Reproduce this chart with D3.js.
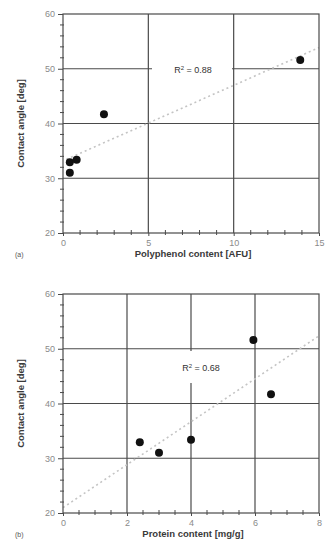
<!DOCTYPE html>
<html>
<head>
<meta charset="utf-8">
<script src="https://cdn.jsdelivr.net/npm/d3@7"></script>
<style>
  html, body { margin: 0; padding: 0; background: #fff; }
  svg { display: block; font-family: "Liberation Sans", Arial, sans-serif; }
</style>
</head>
<body>
<svg id="chart" width="325" height="546"></svg>
<script>
// Contact angle of the samples [deg]
const contactAngle = [31.0, 32.9, 33.4, 41.7, 51.6];
// Panel (a): polyphenol content [AFU]
const polyphenol = [0.4, 0.4, 0.8, 2.4, 13.9];
// Panel (b): protein content [mg/g]
const protein = [3.0, 2.4, 4.0, 6.5, 5.95];

const yTicks = [20, 30, 40, 50, 60];
const xTicksA = [0, 5, 10, 15];
const xTicksB = [0, 2, 4, 6, 8];
const r2Labels = ["0.88", "0.68"];

const svg = d3.select("#chart");
const gridColor = "#4a4a4a";

// least-squares line through the points
function fit(xs, ys) {
  const mx = d3.mean(xs), my = d3.mean(ys);
  let sxy = 0, sxx = 0;
  xs.forEach((x, i) => { sxy += (x - mx) * (ys[i] - my); sxx += (x - mx) ** 2; });
  const b = sxy / sxx;
  return { a: my - b * mx, b };
}

function panel(opt) {
  const x = d3.scaleLinear().domain(opt.xDomain).range([63, 319]);
  const y = d3.scaleLinear().domain([20, 60]).range([opt.bottom, opt.top]);
  const g = svg.append("g");

  // grid
  g.selectAll(".gx").data(opt.xTicks.slice(1, -1)).join("line")
    .attr("x1", d => x(d)).attr("x2", d => x(d))
    .attr("y1", y(60)).attr("y2", y(20))
    .attr("stroke", gridColor).attr("stroke-width", 1.2);
  g.selectAll(".gy").data(yTicks.slice(1, -1)).join("line")
    .attr("x1", x.range()[0]).attr("x2", x.range()[1])
    .attr("y1", d => y(d)).attr("y2", d => y(d))
    .attr("stroke", gridColor).attr("stroke-width", 1.2);

  // R² label on a white box
  const lbl = g.append("g").attr("transform", `translate(${opt.lblX},${opt.lblY})`);
  lbl.append("rect").attr("x", opt.boxX).attr("y", opt.boxY).attr("width", opt.boxW).attr("height", opt.boxH)
    .attr("fill", "#fff");
  const t = lbl.append("text").attr("font-size", 9).attr("fill", "#333").attr("text-anchor", "middle");
  t.append("tspan").text("R");
  t.append("tspan").text("2").attr("font-size", 6).attr("dy", -3.5);
  t.append("tspan").text(" = " + opt.r2).attr("dy", 3.5);

  // trend line
  const f = fit(opt.xs, contactAngle);
  const x0 = opt.xDomain[0] + opt.lineStart, x1 = opt.xDomain[1];
  g.append("line")
    .attr("x1", x(x0)).attr("y1", y(f.a + f.b * x0))
    .attr("x2", x(x1)).attr("y2", y(f.a + f.b * x1))
    .attr("stroke", "#c4c4c4").attr("stroke-width", 1.6)
    .attr("stroke-dasharray", "2,3");

  // frame
  g.append("rect").attr("x", x.range()[0]).attr("y", y(60))
    .attr("width", x.range()[1] - x.range()[0]).attr("height", y(20) - y(60))
    .attr("fill", "none").attr("stroke", gridColor).attr("stroke-width", 1.2);

  // y axis: major and minor ticks
  const yAx = g.append("g").attr("transform", `translate(${x.range()[0]},0)`)
    .call(d3.axisLeft(y).tickValues(yTicks).tickSize(5).tickPadding(3));
  yAx.select(".domain").remove();
  yAx.selectAll("line").attr("stroke", gridColor);
  yAx.selectAll("text").attr("font-size", 9).attr("fill", "#8a8a8a")
    .attr("font-family", "Liberation Sans, Arial, sans-serif");
  g.selectAll(".my").data(d3.range(22, 60, 2).filter(v => v % 10 !== 0)).join("line")
    .attr("x1", x.range()[0] - 3).attr("x2", x.range()[0] + 1)
    .attr("y1", d => y(d)).attr("y2", d => y(d))
    .attr("stroke", gridColor).attr("stroke-width", 1);

  // x axis
  const xAx = g.append("g").attr("transform", `translate(0,${y(20)})`)
    .call(d3.axisBottom(x).tickValues(opt.xTicks).tickSize(3).tickPadding(4));
  xAx.select(".domain").remove();
  xAx.selectAll("line").attr("stroke", gridColor);
  xAx.selectAll("text").attr("font-size", 9).attr("fill", "#8a8a8a")
    .attr("font-family", "Liberation Sans, Arial, sans-serif");
  const minor = d3.range(opt.xDomain[0], opt.xDomain[1] + 1e-9, opt.minorStep)
    .filter(v => !opt.xTicks.some(t => Math.abs(t - v) < 1e-9));
  g.selectAll(".mx").data(minor).join("line")
    .attr("x1", d => x(d)).attr("x2", d => x(d))
    .attr("y1", y(20) - 3).attr("y2", y(20) + 2)
    .attr("stroke", gridColor).attr("stroke-width", 1);

  // points
  g.selectAll(".pt").data(opt.xs).join("circle")
    .attr("cx", d => x(d)).attr("cy", (d, i) => y(contactAngle[i]))
    .attr("r", 4).attr("fill", "#111");

  // axis titles
  g.append("text").attr("transform", `translate(24,${(y(20) + y(60)) / 2}) rotate(-90)`)
    .attr("text-anchor", "middle").attr("font-size", 9.5).attr("font-weight", "bold")
    .attr("fill", "#3a3a3a").text("Contact angle [deg]");
  g.append("text").attr("x", 193).attr("y", y(20) + 24)
    .attr("text-anchor", "middle").attr("font-size", 9.5).attr("font-weight", "bold")
    .attr("fill", "#3a3a3a").text(opt.xTitle);
  g.append("text").attr("x", 15).attr("y", y(20) + 24)
    .attr("font-size", 7).attr("fill", "#555").text(opt.tag);
}

panel({
  xs: polyphenol, xDomain: [0, 15], xTicks: xTicksA, minorStep: 1,
  top: 14, bottom: 233, lineStart: 0.2,
  lblX: 193, lblY: 73, boxX: -41, boxY: -11, boxW: 80, boxH: 22, r2: r2Labels[0],
  xTitle: "Polyphenol content [AFU]", tag: "(a)"
});

panel({
  xs: protein, xDomain: [0, 8], xTicks: xTicksB, minorStep: 0.5,
  top: 294, bottom: 513, lineStart: 0,
  lblX: 201, lblY: 371, boxX: -41, boxY: -20, boxW: 80, boxH: 32, r2: r2Labels[1],
  xTitle: "Protein content [mg/g]", tag: "(b)"
});
</script>
</body>
</html>
